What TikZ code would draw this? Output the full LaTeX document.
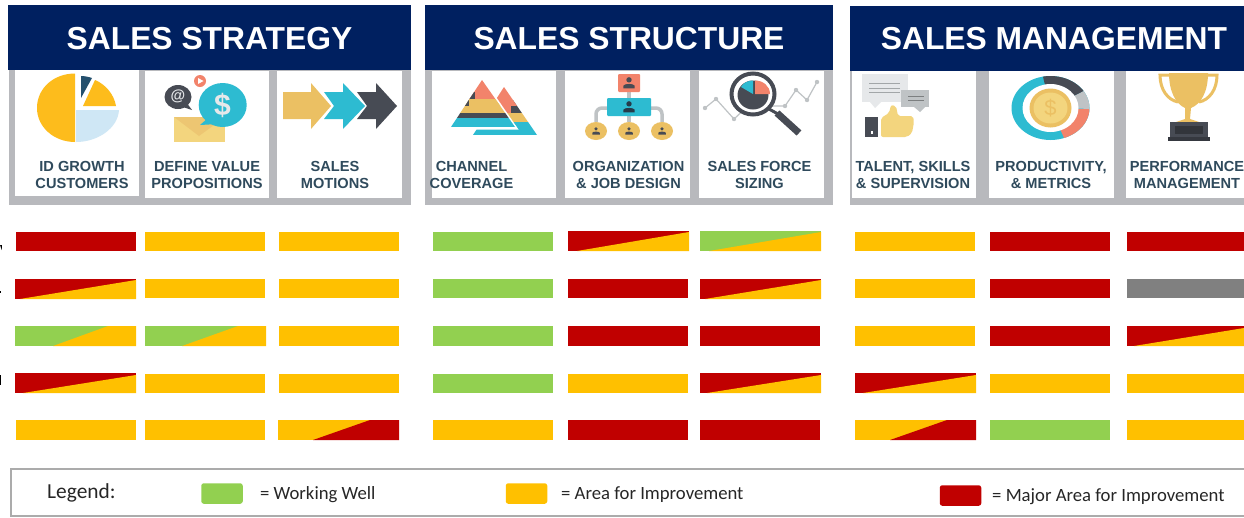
\documentclass[tikz,border=0pt]{standalone}
\usepackage{fontspec}
\setmainfont{Liberation Sans}
\newfontfamily\legendfont{Carlito}
\definecolor{navy}{HTML}{002060}
\definecolor{panelgrey}{HTML}{B8B9BD}
\definecolor{labelteal}{HTML}{2F4A5C}
\definecolor{okgreen}{HTML}{92D050}
\definecolor{amber}{HTML}{FFC000}
\definecolor{major}{HTML}{C00000}
\definecolor{naval}{HTML}{808080}
\definecolor{framegrey}{HTML}{ABABAB}
\definecolor{pieamber}{HTML}{FDBC1C}
\definecolor{pieblue}{HTML}{CFE7F5}
\definecolor{piedark}{HTML}{24506E}
\definecolor{icoteal}{HTML}{2DBBD1}
\definecolor{icodark}{HTML}{474B54}
\definecolor{icosand}{HTML}{EBC063}
\definecolor{icoyellow}{HTML}{F3D57E}
\definecolor{icosalmon}{HTML}{F2836B}
\definecolor{icogrey}{HTML}{BFC3C5}
\definecolor{icolight}{HTML}{E6E8EA}
\tikzset{
  x=1pt,y=-1pt,
  title/.style={font=\bfseries\fontsize{31.8}{32}\selectfont,text=white,inner sep=0pt},
  cardlabel/.style={font=\bfseries\fontsize{14.6}{17}\selectfont,text=labelteal,align=center,inner sep=0pt},
  legendtext/.style={font=\legendfont\fontsize{18.7}{18.7}\selectfont,text=black!85,anchor=west,inner sep=0pt},
  swatch/.style={rounded corners=2.5pt,minimum width=41.5pt,minimum height=20.5pt,inner sep=0pt,outer sep=0pt},
  cellbar/.style={anchor=north west,inner sep=0pt,outer sep=0pt},
}
% name, x1, y1, x2, y2, colour
\newcommand{\cellbar}[6]{\node[cellbar,fill=#6,minimum width={(#4-#2)*1pt},minimum height={(#5-#3)*1pt}] (#1) at (#2,#3) {};}
% name, x1, y1, x2, y2, base colour, lower-right colour, bottom x, top x
\newcommand{\splitbar}[9]{\cellbar{#1}{#2}{#3}{#4}{#5}{#6}\fill[#7] (#8,#5) -- (#9,#3) -- (#4,#3) -- (#4,#5) -- cycle;}
% wedge of amber that reaches the right edge just below the top
\newcommand{\wedgebar}[8]{\cellbar{#1}{#2}{#3}{#4}{#5}{#6}\fill[amber] (#7,#5) -- (#4,#8) -- (#4,#5) -- cycle;}
\newcommand{\person}[4]{%
  \fill[#4] (#1,#2-#3*.42) circle[radius=#3*.36];
  \fill[#4] (#1-#3*.75,#2+#3*.72) -- (#1-#3*.75,#2+#3*.35) .. controls (#1-#3*.6,#2+#3*.05) and (#1+#3*.6,#2+#3*.05) .. (#1+#3*.75,#2+#3*.35) -- (#1+#3*.75,#2+#3*.72) -- cycle;}
\begin{document}
\begin{tikzpicture}
\useasboundingbox (0,0) rectangle (1244,517);
% ---------- panels
\fill[panelgrey] (9,68) rectangle (411,205);
\fill[panelgrey] (425,68) rectangle (833,205);
\fill[panelgrey] (850,68) rectangle (1244,205);
\fill[white] (15,70) rectangle (139,196);
\fill[white] (145,71) rectangle (269,198);
\fill[white] (277,71) rectangle (402,198);
\fill[white] (432,71) rectangle (556,198);
\fill[white] (565,71) rectangle (690,198);
\fill[white] (699,71) rectangle (824,198);
\fill[white] (852,71) rectangle (976,198);
\fill[white] (989,71) rectangle (1114,198);
\fill[white] (1126,71) rectangle (1244,198);
\fill[navy] (8,5) rectangle (411,70);
\fill[navy] (425,5) rectangle (833,70);
\fill[navy] (850,6) rectangle (1244,71);
\node[title] (t1) at (209.5,38.2) {SALES STRATEGY};
\node[title] (t2) at (629,38.2) {SALES STRUCTURE};
\node[title] (t3) at (1054,39) {SALES MANAGEMENT};
% ---------- card labels
\node[cardlabel] (l1) at (82,175.3) {ID GROWTH\\CUSTOMERS};
\node[cardlabel] (l2) at (207,175.3) {DEFINE VALUE\\PROPOSITIONS};
\node[cardlabel] (l3) at (335,175.3) {SALES\\MOTIONS};
\node[cardlabel] (l4) at (471.5,175.3) {CHANNEL\\COVERAGE};
\node[cardlabel] (l5) at (628.5,175.3) {ORGANIZATION\\\&\ JOB DESIGN};
\node[cardlabel] (l6) at (759.5,175.3) {SALES FORCE\\SIZING};
\node[cardlabel] (l7) at (913,175.3) {TALENT, SKILLS\\\&\ SUPERVISION};
\node[cardlabel] (l8) at (1051,175.3) {PRODUCTIVITY,\\\&\ METRICS};
\node[cardlabel] (l9) at (1187,175.3) {PERFORMANCE\\MANAGEMENT};
% ---------- icon: pie
\fill[pieamber] (75,73.5) .. controls (54,73.5) and (37,88) .. (37,108) .. controls (37,127) and (54,142) .. (75,142) -- cycle;
\fill[pieblue] (76,110) -- (119,110) .. controls (118,128) and (98,142) .. (76,142) -- cycle;
\fill[pieamber] (83,106) -- (95,80) .. controls (105,84) and (114,94) .. (116,106) -- cycle;
\fill[piedark] (81,76) .. controls (85,76) and (89,77) .. (92,78) -- (81,98) -- cycle;
% ---------- icon: messages
\fill[icoyellow] (174,117) rectangle (225,142);
\fill[icosand!90!white] (174,117) -- (199,136) -- (225,117) -- cycle;
\fill[icodark] (178,97) ellipse[x radius=13.5,y radius=12];
\fill[icodark] (180,106) -- (192,110) -- (186,102) -- cycle;
\node[font=\bfseries\fontsize{15}{15}\selectfont,text=icolight,inner sep=0pt] (at) at (178,96.5) {@};
\fill[icosalmon] (200,81) circle[radius=6];
\fill[white] (198,78) -- (203.5,81) -- (198,84) -- cycle;
\fill[icoteal] (222.7,105) ellipse[x radius=24,y radius=22];
\fill[icoteal] (208,118) -- (200,125) -- (218,124) -- cycle;
\node[font=\bfseries\fontsize{30}{30}\selectfont,text=icolight,inner sep=0pt] (dollar) at (222.5,105) {\$};
% ---------- icon: arrows
\fill[icosand] (283,92) -- (311,92) -- (311,83) -- (331,106) -- (311,129) -- (311,119) -- (283,119) -- cycle;
\fill[icoteal] (324,92) -- (343,92) -- (343,83) -- (365,106) -- (343,129) -- (343,119) -- (324,119) -- (334,106) -- cycle;
\fill[icodark] (357,92) -- (376,92) -- (376,83) -- (397,106) -- (376,129) -- (376,119) -- (357,119) -- (367,106) -- cycle;
% ---------- icon: pyramids
\begin{scope}
\clip (504,87) -- (537,135) -- (473,135) -- cycle;
\fill[icoteal] (470,122) rectangle (540,135);
\fill[icosand] (470,113) rectangle (540,122);
\fill[icodark] (470,100) rectangle (540,113);
\fill[icosalmon] (470,85) rectangle (540,106);
\fill[icosalmon] (470,106) rectangle (511,113);
\end{scope}
\fill[white] (482,76.5) -- (518.5,129.5) -- (445,129.5) -- cycle;
\begin{scope}
\clip (482,80) -- (515,127) -- (451,127) -- cycle;
\fill[icoteal] (445,118) rectangle (520,127);
\fill[icodark] (445,113) rectangle (520,118);
\fill[icosand] (445,99) rectangle (520,113);
\fill[icosalmon] (445,78) rectangle (520,99);
\fill[icodark] (445,92) rectangle (475,106);
\fill[icosand] (469,99) rectangle (520,106);
\end{scope}
% ---------- icon: organisation
\draw[icogrey,line width=3.5pt] (629,92) -- (629,98);
\draw[icogrey,line width=3.5pt] (629,116) -- (629,122);
\draw[icogrey,line width=3.5pt,rounded corners=6pt] (607,108) -- (596,108) -- (596,122);
\draw[icogrey,line width=3.5pt,rounded corners=6pt] (651,108) -- (662,108) -- (662,122);
\fill[icosalmon,rounded corners=1pt] (618,74) rectangle (640,92);
\fill[icoteal,rounded corners=1pt] (607,98) rectangle (651,116);
\fill[icosand] (596,131) ellipse[x radius=11,y radius=9];
\fill[icosand] (629,131) ellipse[x radius=11,y radius=9];
\fill[icosand] (662,131) ellipse[x radius=11,y radius=9];
\person{629}{83}{7.5}{icodark}
\person{629}{107}{7.5}{labelteal!80!black}
\person{596}{131}{5}{icodark}
\person{629}{131}{5}{icodark}
\person{662}{131}{5}{icodark}
% ---------- icon: magnifier
\draw[icogrey,line width=1.2pt] (705,108) -- (716,99) -- (734,119) -- (750,104) -- (772,106) -- (785,106) -- (796,90) -- (807,100) -- (817,82);
\foreach \px/\py in {705/108,716/99,734/119,785/106,796/90,807/100,817/82}{\fill[icogrey] (\px,\py) circle[radius=2.2];}
\fill[white] (753,94) ellipse[x radius=22,y radius=21];
\draw[icodark,line width=4pt] (753,94) ellipse[x radius=21.5,y radius=20.5];
\draw[icodark,line width=3pt] (769,109) -- (778,114);
\draw[icodark,line width=7pt] (777,113) -- (799,133);
\fill[icodark] (753,95) ellipse[x radius=15.5,y radius=14.5];
\fill[icosalmon] (755,94) -- (755,80.5) .. controls (763,80.5) and (770,86) .. (770,94) -- cycle;
\fill[icoteal] (753,94) -- (753,80.5) .. controls (748,80.5) and (743,83) .. (741,87) -- cycle;
% ---------- icon: talent
\fill[icolight] (862,74) rectangle (908,102);
\fill[icolight] (870,102) -- (875,108) -- (881,102) -- cycle;
\foreach \ly in {83,88,92.5}{\draw[icogrey!85!black,line width=1pt] (869,\ly) -- (900,\ly);}
\fill[icogrey] (901,90) rectangle (929,107);
\fill[icogrey] (914,107) -- (920,112) -- (925,107) -- cycle;
\foreach \ly in {96,100.5}{\draw[icogrey!65!black,line width=1pt] (908,\ly) -- (924,\ly);}
\fill[icodark] (865,117) rectangle (878,137);
\fill[white] (870.5,131) rectangle (873,133.5);
\fill[icoyellow,rounded corners=2pt] (881,137) -- (881,118) -- (889,113) -- (891,105) -- (896,106) -- (898,116) -- (913,116) -- (914,122) -- (912,133) -- (907,137) -- cycle;
% ---------- icon: donut
\fill[icoteal] (1050.5,108) ellipse[x radius=39,y radius=32];
\begin{scope}
\clip (1050.5,108) ellipse[x radius=39,y radius=32];
\fill[icosalmon] (1050.5,108) -- (1050.5,109) -- (1095,109) -- (1095,135) -- (1065,140) -- cycle;
\fill[icogrey] (1050.5,108) -- (1095,109) -- (1095,85) -- cycle;
\fill[icodark] (1050.5,108) -- (1095,85) -- (1090,60) -- (1039,60) -- cycle;
\end{scope}
\fill[white] (1050.5,108) ellipse[x radius=28,y radius=24];
\fill[icosand] (1050.5,108) ellipse[x radius=21,y radius=19.5];
\fill[icoyellow] (1050.5,108) ellipse[x radius=17,y radius=15.5];
\node[font=\fontsize{22}{22}\selectfont,text=icosand,inner sep=0pt] (coin) at (1050.5,108) {\$};
% ---------- icon: trophy
\draw[icosand,line width=3pt] (1171,75) -- (1160,75) .. controls (1160,90) and (1168,100) .. (1178,102);
\draw[icosand,line width=3pt] (1206,75) -- (1217,75) .. controls (1217,90) and (1209,100) .. (1199,102);
\fill[icosand] (1169,73) -- (1208,73) .. controls (1208,92) and (1201,104) .. (1191,108) -- (1190,119) -- (1199,122) -- (1176,122) -- (1185,119) -- (1185,108) .. controls (1176,104) and (1169,92) .. (1169,73) -- cycle;
\fill[icodark] (1170,122) rectangle (1208,137);
\fill[icodark!75!black] (1168,137) rectangle (1210,140.5);
\fill[icodark!70!black] (1175,126) rectangle (1203,134);
% ---------- status bars
\cellbar{a1}{16}{232}{136}{251}{major}
\cellbar{a2}{145}{232}{265}{251}{amber}
\cellbar{a3}{279}{232}{399}{251}{amber}
\cellbar{a4}{433}{232}{553}{251}{okgreen}
\wedgebar{a5}{568}{231}{689}{251}{major}{577}{232}
\wedgebar{a6}{700}{231}{821}{251}{okgreen}{709}{232}
\cellbar{a7}{855}{232}{975}{251}{amber}
\cellbar{a8}{990}{232}{1110}{251}{major}
\cellbar{a9}{1127}{232}{1244}{251}{major}
\wedgebar{b1}{15}{279}{136}{299}{major}{20}{280}
\cellbar{b2}{145}{279}{265}{298}{amber}
\cellbar{b3}{279}{279}{399}{298}{amber}
\cellbar{b4}{433}{279}{553}{298}{okgreen}
\cellbar{b5}{568}{279}{688}{298}{major}
\wedgebar{b6}{700}{279}{821}{299}{major}{705}{280}
\cellbar{b7}{855}{279}{975}{298}{amber}
\cellbar{b8}{990}{279}{1110}{298}{major}
\cellbar{b9}{1127}{279}{1244}{298}{naval}
\splitbar{c1}{15}{326}{136}{346}{okgreen}{amber}{53}{108}
\splitbar{c2}{145}{326}{266}{346}{okgreen}{amber}{182}{238}
\cellbar{c3}{279}{326}{399}{346}{amber}
\cellbar{c4}{433}{326}{553}{346}{okgreen}
\cellbar{c5}{568}{326}{688}{346}{major}
\cellbar{c6}{700}{326}{820}{346}{major}
\cellbar{c7}{855}{326}{975}{346}{amber}
\cellbar{c8}{990}{326}{1110}{346}{major}
\wedgebar{c9}{1127}{326}{1244}{346}{major}{1134}{328}
\wedgebar{d1}{15}{373}{136}{393}{major}{23}{375}
\cellbar{d2}{145}{374}{265}{393}{amber}
\cellbar{d3}{279}{374}{399}{393}{amber}
\cellbar{d4}{433}{374}{553}{393}{okgreen}
\cellbar{d5}{568}{374}{688}{393}{amber}
\wedgebar{d6}{700}{373}{821}{393}{major}{707}{375}
\wedgebar{d7}{855}{373}{976}{393}{major}{863}{375}
\cellbar{d8}{990}{374}{1110}{393}{amber}
\cellbar{d9}{1127}{374}{1244}{393}{amber}
\cellbar{e1}{16}{420}{136}{440}{amber}
\cellbar{e2}{145}{420}{265}{440}{amber}
\splitbar{e3}{278}{420}{399}{440}{amber}{major}{313}{370}
\cellbar{e4}{433}{420}{553}{440}{amber}
\cellbar{e5}{568}{420}{688}{440}{major}
\cellbar{e6}{700}{420}{820}{440}{major}
\splitbar{e7}{855}{420}{976}{440}{amber}{major}{890}{947}
\cellbar{e8}{990}{420}{1110}{440}{okgreen}
\cellbar{e9}{1127}{420}{1244}{440}{amber}
% ---------- clipped row letters at the left edge
\fill[black] (0,245) -- (1.8,245) -- (1.8,250) -- cycle;
\fill[black] (0,291) rectangle (1,293);
\fill[black] (0,375) rectangle (1.2,385);
% ---------- legend
\draw[framegrey,line width=1.6pt] (1244,469) -- (11,469) -- (11,516) -- (1244,516);
\node[legendtext,font=\legendfont\fontsize{21.4}{21.4}\selectfont] (lg) at (47,492.5) {Legend:};
\node[swatch,fill=okgreen] (s1) at (222,493.5) {};
\node[legendtext] (s1t) at (260,495) {= Working Well};
\node[swatch,fill=amber] (s2) at (526.5,493.5) {};
\node[legendtext] (s2t) at (561,495) {= Area for Improvement};
\node[swatch,fill=major] (s3) at (960.5,495.5) {};
\node[legendtext] (s3t) at (992,497) {= Major Area for Improvement};
\end{tikzpicture}
\end{document}
